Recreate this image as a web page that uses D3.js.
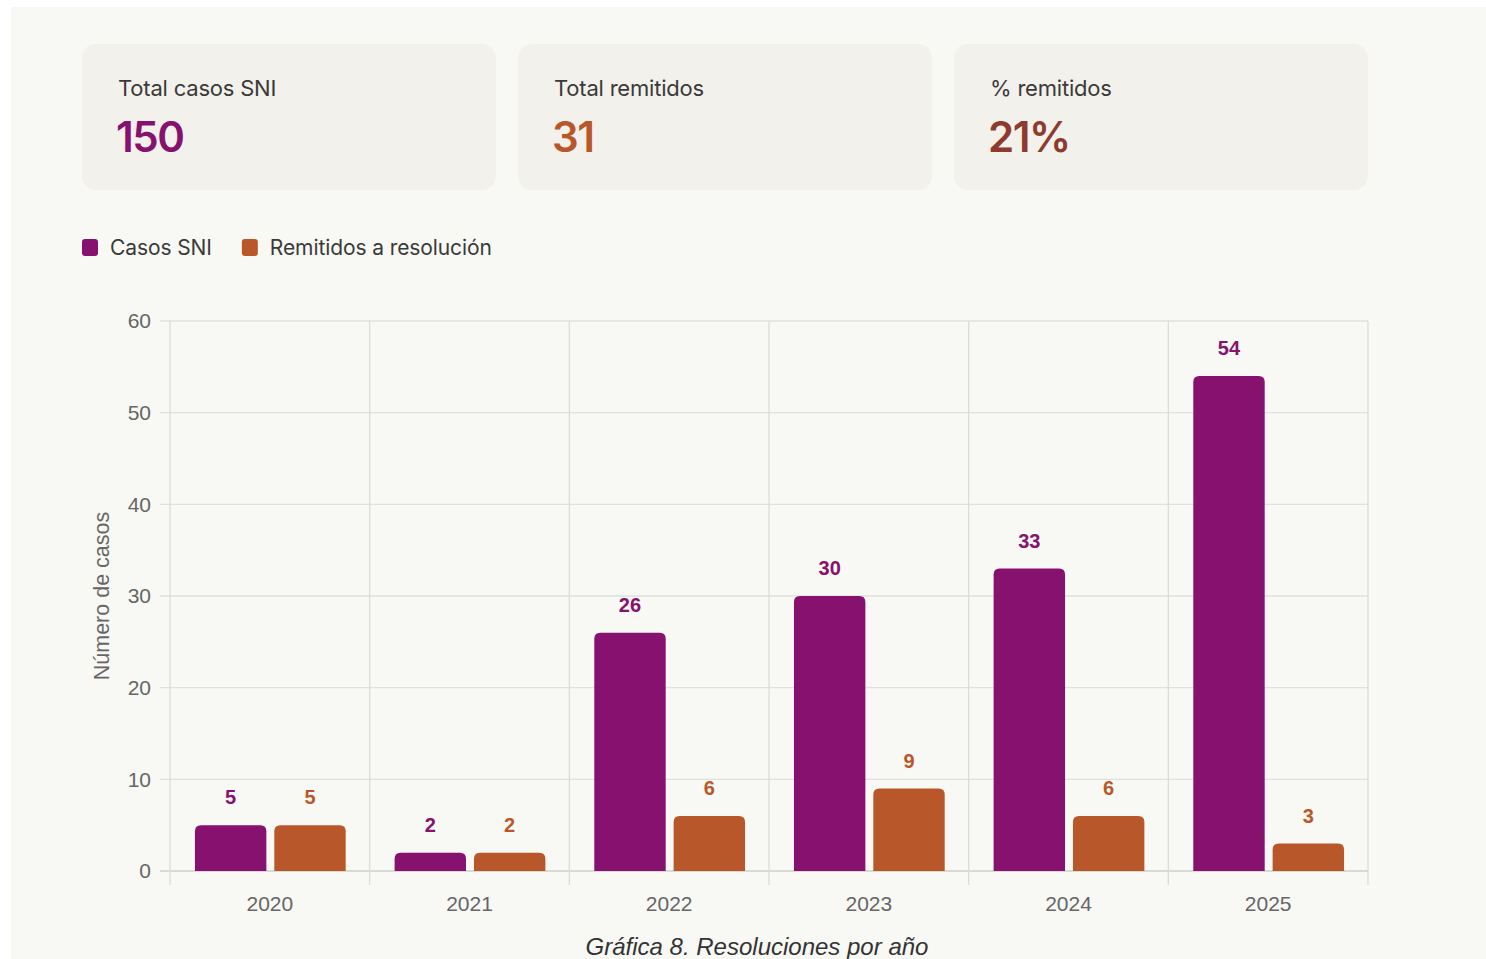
<!DOCTYPE html>
<html><head><meta charset="utf-8">
<script src="https://cdn.jsdelivr.net/npm/d3@7"></script>
<style>
html,body{margin:0;padding:0;background:#ffffff;}
svg{display:block;}
</style></head>
<body>
<svg id="chart" width="1486" height="959"></svg>
<script>
const years = ["2020","2021","2022","2023","2024","2025"];
const casosSNI = [5, 2, 26, 30, 33, 54];
const remitidos = [5, 2, 6, 9, 6, 3];
const seriesNames = ["Casos SNI", "Remitidos a resolución"];
const seriesColors = ["#86116e", "#b8582a"];
const yTicks = [0, 10, 20, 30, 40, 50, 60];
const kpiLabels = ["Total casos SNI", "Total remitidos", "% remitidos"];
const kpiValues = ["150", "31", "21%"];
const kpiColors = ["#86116e", "#b8582a", "#8e3a2e"];
const yTitle = "Número de casos";
const caption = "Gráfica 8. Resoluciones por año";

const svg = d3.select("#chart");
svg.append("rect").attr("x", 11).attr("y", 7).attr("width", 1475).attr("height", 952).attr("fill", "#f8f8f4");

const uiFont = "Inter, 'Open Sans', sans-serif";
const axFont = "'Liberation Sans', Arial, sans-serif";

// KPI cards
const cardX = d3.scaleBand().domain(kpiLabels).range([82, 1368]).paddingInner(22/436).paddingOuter(0);
kpiLabels.forEach((lab, i) => {
  const x = cardX(lab);
  const w = cardX.bandwidth();
  const g = svg.append("g");
  g.append("rect").attr("x", x).attr("y", 44).attr("width", w).attr("height", 146).attr("rx", 14).attr("fill", "#f3f1ec");
  g.append("text").attr("x", x + 36).attr("y", 96).attr("font-family", uiFont).attr("font-size", 22).attr("letter-spacing", -0.2).attr("fill", "#3a3a3a").text(lab);
  g.append("text").attr("x", x + 34).attr("y", 152).attr("font-family", uiFont).attr("font-size", 42).attr("font-weight", 600).attr("letter-spacing", -1.5).attr("fill", kpiColors[i]).text(kpiValues[i]);
});

// Legend
const leg = svg.append("g");
let lx = 82;
seriesNames.forEach((n, i) => {
  leg.append("rect").attr("x", lx).attr("y", 239).attr("width", 16).attr("height", 17).attr("rx", 3).attr("fill", seriesColors[i]);
  const t = leg.append("text").attr("x", lx + 28).attr("y", 255).attr("font-family", uiFont).attr("font-size", 21).attr("letter-spacing", -0.1).attr("fill", "#3a3a3a").text(n);
  lx += 28 + t.node().getComputedTextLength() + 30;
});

// Chart
const m = {left: 170, right: 1368, top: 321, bottom: 871};
const x0 = d3.scaleBand().domain(years).range([m.left, m.right]).padding(0);
const x1 = d3.scaleBand().domain(seriesNames).range([x0.bandwidth()*0.125, x0.bandwidth()*0.88]).paddingInner(0.1);
const y = d3.scaleLinear().domain([0, 60]).range([m.bottom, m.top]);

const grid = svg.append("g");
yTicks.forEach(t => {
  grid.append("line").attr("x1", m.left - 10).attr("x2", m.right).attr("y1", y(t)).attr("y2", y(t)).attr("stroke", t === 0 ? "#cfcfcb" : "#e0e0dc").attr("stroke-width", 1.3);
});
const bounds = years.map(d => x0(d)).concat([m.right]);
bounds.forEach(b => {
  grid.append("line").attr("x1", b).attr("x2", b).attr("y1", m.top).attr("y2", m.bottom + 14).attr("stroke", "#dcdcd8").attr("stroke-width", 1.3);
});

const yAxis = svg.append("g").attr("transform", `translate(${m.left},0)`)
  .call(d3.axisLeft(y).tickValues(yTicks).tickSize(0).tickPadding(19));
yAxis.select(".domain").remove();
yAxis.selectAll("text").attr("font-family", axFont).attr("font-size", 21).attr("fill", "#666");

const xAxis = svg.append("g").attr("transform", `translate(0,${m.bottom})`)
  .call(d3.axisBottom(x0).tickSize(0).tickPadding(25));
xAxis.select(".domain").remove();
xAxis.selectAll("text").attr("font-family", axFont).attr("font-size", 21).attr("fill", "#666");

svg.append("text").attr("transform", `translate(109,${(m.top + m.bottom)/2}) rotate(-90)`)
  .attr("text-anchor", "middle").attr("font-family", axFont).attr("font-size", 21.5).attr("fill", "#666").text(yTitle);

function topRounded(x, yTop, w, h, r) {
  r = Math.min(r, h, w/2);
  const p = d3.path();
  p.moveTo(x, yTop + h);
  p.lineTo(x, yTop + r);
  p.quadraticCurveTo(x, yTop, x + r, yTop);
  p.lineTo(x + w - r, yTop);
  p.quadraticCurveTo(x + w, yTop, x + w, yTop + r);
  p.lineTo(x + w, yTop + h);
  p.closePath();
  return p.toString();
}

const data = years.map((yr, i) => ({year: yr, vals: [casosSNI[i], remitidos[i]]}));
const bars = svg.append("g");
data.forEach(d => {
  d.vals.forEach((v, j) => {
    const bx = x0(d.year) + x1(seriesNames[j]);
    const bw = x1.bandwidth();
    bars.append("path").attr("d", topRounded(bx, y(v), bw, y(0) - y(v), 6)).attr("fill", seriesColors[j]);
    bars.append("text").attr("x", bx + bw/2).attr("y", y(v) - 21).attr("text-anchor", "middle")
      .attr("font-family", axFont).attr("font-weight", "bold").attr("font-size", 20).attr("fill", seriesColors[j]).text(v);
  });
});

svg.append("text").attr("x", 757).attr("y", 955).attr("text-anchor", "middle").attr("font-family", axFont)
  .attr("font-style", "italic").attr("font-size", 24).attr("fill", "#333").text(caption);
</script>
</body></html>
